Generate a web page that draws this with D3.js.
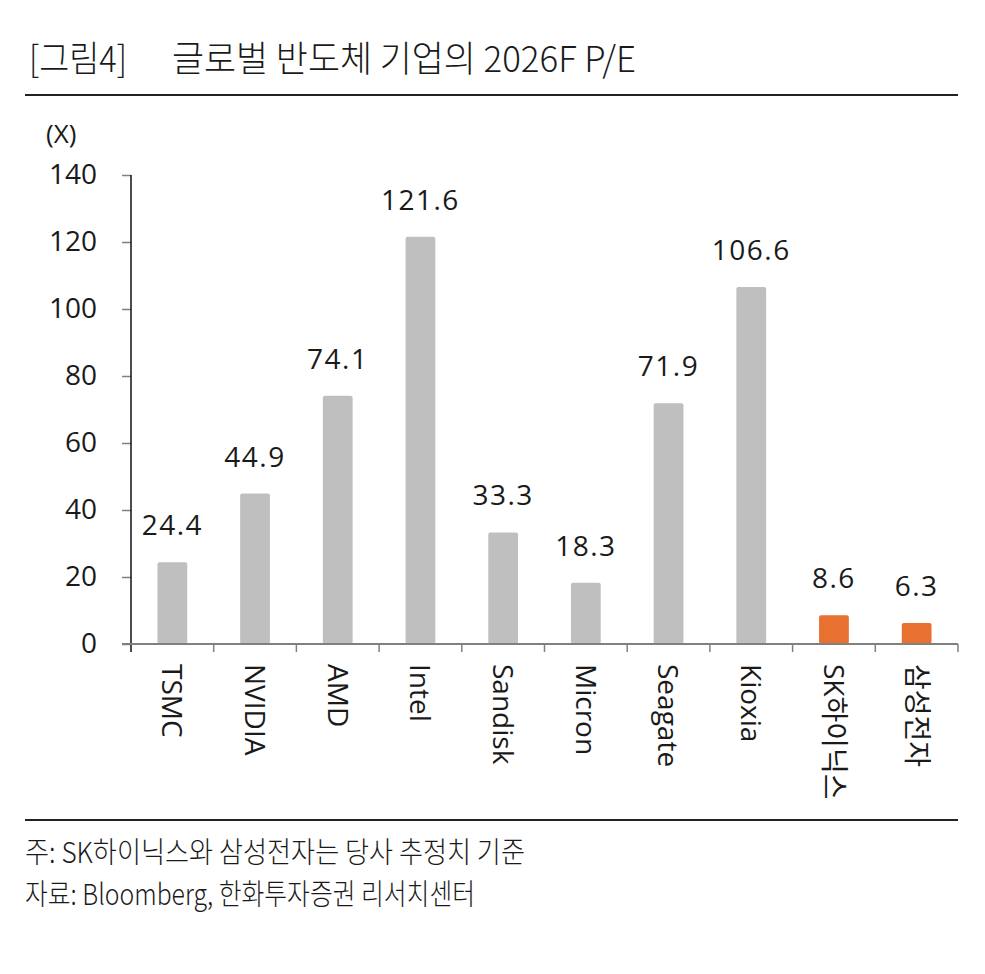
<!DOCTYPE html>
<html>
<head>
<meta charset="utf-8">
<script src="https://cdn.jsdelivr.net/npm/d3@7"></script>
<style>
  body { margin: 0; background: #fff; }
  svg { display: block; }
  .ko { font-family: "Noto Sans CJK KR", "Noto Sans", sans-serif; font-weight: 300; fill: #1a1a1a; }
  .num { font-family: "Open Sans", "Noto Sans CJK KR", sans-serif; fill: #1a1a1a; }
</style>
</head>
<body>
<div id="chart_area"></div>
<script>
// data
var companies = ["TSMC", "NVIDIA", "AMD", "Intel", "Sandisk", "Micron", "Seagate", "Kioxia", "SK하이닉스", "삼성전자"];
var peValues = [24.4, 44.9, 74.1, 121.6, 33.3, 18.3, 71.9, 106.6, 8.6, 6.3];
var highlighted = ["SK하이닉스", "삼성전자"];
var yTicks = [0, 20, 40, 60, 80, 100, 120, 140];

var width = 985, height = 974;
var plot = { left: 131, right: 958, top: 175, bottom: 644 };

var svg = d3.select("#chart_area")
    .append("svg")
    .attr("width", width)
    .attr("height", height);

// title
svg.append("text")
    .attr("class", "ko")
    .attr("x", 29).attr("y", 72)
    .attr("font-size", 36)
    .attr("textLength", 98).attr("lengthAdjust", "spacingAndGlyphs")
    .text("[그림4]");
svg.append("text")
    .attr("class", "ko")
    .attr("x", 172).attr("y", 72)
    .attr("font-size", 36)
    .attr("textLength", 464).attr("lengthAdjust", "spacingAndGlyphs")
    .text("글로벌 반도체 기업의 2026F P/E");
svg.append("line")
    .attr("x1", 25).attr("x2", 958)
    .attr("y1", 95).attr("y2", 95)
    .style("stroke", "#222").style("stroke-width", 2);

var x = d3.scaleBand()
    .domain(companies)
    .range([plot.left, plot.right])
    .padding(0);

var y = d3.scaleLinear()
    .domain([0, 140])
    .range([plot.bottom, plot.top]);

var barW = x.bandwidth() * 0.36;

// unit
svg.append("text")
    .attr("class", "num")
    .attr("x", 46).attr("y", 143)
    .attr("font-size", 26)
    .text("(X)");

// y axis
var yAxis = svg.append("g")
    .attr("transform", "translate(" + plot.left + ",0)")
    .call(d3.axisLeft(y).tickValues(yTicks).tickSize(9).tickPadding(25));
yAxis.select(".domain").remove();
yAxis.selectAll(".tick line").style("stroke", "#808080").style("stroke-width", 1.5);
yAxis.selectAll(".tick text")
    .attr("class", "num")
    .attr("font-size", 28)
    .style("font-family", "'Open Sans', sans-serif")
    .style("fill", "#1a1a1a");
svg.append("line")
    .attr("x1", plot.left).attr("x2", plot.left)
    .attr("y1", plot.top).attr("y2", plot.bottom + 8)
    .style("stroke", "#111").style("stroke-width", 1.5);

// bars
svg.append("g")
    .selectAll("rect")
    .data(companies)
    .enter().append("rect")
    .attr("x", function (d) { return x(d) + (x.bandwidth() - barW) / 2; })
    .attr("y", function (d, i) { return y(peValues[i]); })
    .attr("width", barW)
    .attr("height", function (d, i) { return y(0) - y(peValues[i]); })
    .attr("rx", 2)
    .style("fill", function (d) { return highlighted.indexOf(d) >= 0 ? "#e87030" : "#bfbfbf"; });

// value labels
svg.append("g")
    .selectAll("text")
    .data(companies)
    .enter().append("text")
    .attr("class", "num")
    .attr("x", function (d) { return x(d) + x.bandwidth() / 2; })
    .attr("y", function (d, i) { return y(peValues[i]) - 27; })
    .attr("text-anchor", "middle")
    .attr("font-size", 28)
    .style("letter-spacing", "1.5px")
    .text(function (d, i) { return peValues[i].toFixed(1); });

// x axis baseline and boundary ticks
var xAxis = svg.append("g");
xAxis.append("line")
    .attr("x1", plot.left - 9).attr("x2", plot.right)
    .attr("y1", y(0)).attr("y2", y(0))
    .style("stroke", "#808080").style("stroke-width", 2);
var bounds = companies.map(function (d) { return x(d); }).concat([plot.right]);
xAxis.selectAll("line.b")
    .data(bounds.slice(1))
    .enter().append("line")
    .attr("class", "b")
    .attr("x1", function (d) { return d; }).attr("x2", function (d) { return d; })
    .attr("y1", y(0)).attr("y2", y(0) + 8)
    .style("stroke", "#808080").style("stroke-width", 1.5);

// category labels, rotated
xAxis.selectAll("text")
    .data(companies)
    .enter().append("text")
    .attr("class", "num")
    .attr("font-size", 28)
    .attr("transform", function (d) {
        return "translate(" + (x(d) + x.bandwidth() / 2) + "," + (y(0) + 20) + ") rotate(90)";
    })
    .attr("dy", "0.36em")
    .text(function (d) { return d; });

// bottom rule and notes
svg.append("line")
    .attr("x1", 25).attr("x2", 958)
    .attr("y1", 820).attr("y2", 820)
    .style("stroke", "#222").style("stroke-width", 2);
svg.append("text")
    .attr("class", "ko")
    .attr("x", 25).attr("y", 863)
    .attr("font-size", 29)
    .attr("textLength", 500).attr("lengthAdjust", "spacingAndGlyphs")
    .text("주: SK하이닉스와 삼성전자는 당사 추정치 기준");
svg.append("text")
    .attr("class", "ko")
    .attr("x", 25).attr("y", 905)
    .attr("font-size", 29)
    .attr("textLength", 450).attr("lengthAdjust", "spacingAndGlyphs")
    .text("자료: Bloomberg, 한화투자증권 리서치센터");
</script>
</body>
</html>
